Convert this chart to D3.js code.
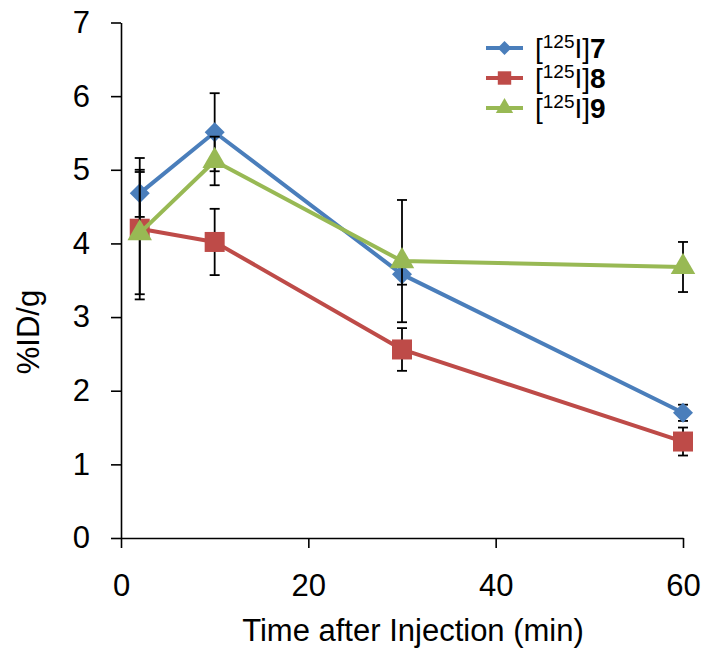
<!DOCTYPE html>
<html>
<head>
<meta charset="utf-8">
<script src="https://cdn.jsdelivr.net/npm/d3@7"></script>
<style>
  html, body { margin: 0; padding: 0; background: #fff; }
  svg { display: block; font-family: Arial, "Liberation Sans", sans-serif; }
</style>
</head>
<body>
<svg id="chart" width="714" height="666"></svg>
<script>
// ---- data ----
const times = [2, 10, 30, 60];
const seriesLabels = ["7", "8", "9"];
const values7 = [4.68, 5.51, 3.58, 1.70];
const errors7 = [0.32, 0.53, 0.14, 0.11];
const values8 = [4.20, 4.02, 2.56, 1.31];
const errors8 = [0.96, 0.45, 0.29, 0.19];
const values9 = [4.14, 5.12, 3.76, 3.68];
const errors9 = [0.83, 0.33, 0.83, 0.34];
const xTicks = [0, 20, 40, 60];
const yTicks = [0, 1, 2, 3, 4, 5, 6, 7];
const colors = ["#4a7ebb", "#be4b48", "#98b954"];
const markerTypes = ["diamond", "square", "triangle"];

const series = [
  { label: seriesLabels[0], values: values7, errors: errors7, color: colors[0], marker: markerTypes[0] },
  { label: seriesLabels[1], values: values8, errors: errors8, color: colors[1], marker: markerTypes[1] },
  { label: seriesLabels[2], values: values9, errors: errors9, color: colors[2], marker: markerTypes[2] }
];

const svg = d3.select("#chart");
const x = d3.scaleLinear().domain([0, 60]).range([121, 683]);
const y = d3.scaleLinear().domain([0, 7]).range([538, 22.5]);

function markerPath(type, big) {
  if (type === "diamond") return d3.symbol().type(d3.symbolSquare).size(big ? 200 : 95)();
  if (type === "square") return d3.symbol().type(d3.symbolSquare).size(big ? 400 : 180)();
  return d3.symbol().type(d3.symbolTriangle).size(big ? 260 : 130)();
}
function markerTransform(type, px, py) {
  return type === "diamond" ? `translate(${px},${py}) rotate(45)` : `translate(${px},${py})`;
}

// ---- axes ----
const yAxis = d3.axisLeft(y).tickValues(yTicks).tickSize(10).tickSizeOuter(0).tickPadding(21).tickFormat(d3.format("d"));
const gy = svg.append("g").attr("transform", `translate(${x(0)},0)`).call(yAxis);
gy.selectAll("text").attr("font-size", 31).attr("fill", "#000").attr("font-family", "Arial, 'Liberation Sans', sans-serif");

const xAxis = d3.axisBottom(x).tickValues(xTicks).tickSize(10).tickSizeOuter(0).tickPadding(26).tickFormat(d3.format("d"));
const gx = svg.append("g").attr("transform", `translate(0,${y(0)})`).call(xAxis);
gx.selectAll("text").attr("font-size", 31).attr("fill", "#000").attr("font-family", "Arial, 'Liberation Sans', sans-serif");

[gx, gy].forEach(g => {
  g.select(".domain").attr("stroke", "#000").attr("stroke-width", 1.6);
  g.selectAll(".tick line").attr("stroke", "#000").attr("stroke-width", 1.6);
});

// axis titles
svg.append("text")
  .attr("x", 413).attr("y", 641)
  .attr("text-anchor", "middle")
  .attr("font-size", 31)
  .text("Time after Injection (min)");

svg.append("text")
  .attr("transform", "translate(39,332) rotate(-90)")
  .attr("text-anchor", "middle")
  .attr("font-size", 31)
  .text("%ID/g");

// ---- series ----
const line = d3.line().x(d => x(d.t)).y(d => y(d.v));

series.forEach(s => {
  const pts = times.map((t, i) => ({ t, v: s.values[i], e: s.errors[i] }));
  const g = svg.append("g");
  // error bars
  const eb = g.append("g").attr("stroke", "#000").attr("stroke-width", 1.8);
  pts.forEach(p => {
    eb.append("line").attr("x1", x(p.t)).attr("x2", x(p.t)).attr("y1", y(p.v - p.e)).attr("y2", y(p.v + p.e));
    [p.v - p.e, p.v + p.e].forEach(v => {
      eb.append("line").attr("x1", x(p.t) - 5).attr("x2", x(p.t) + 5).attr("y1", y(v)).attr("y2", y(v));
    });
  });
  g.append("path").datum(pts).attr("d", line)
    .attr("fill", "none").attr("stroke", s.color).attr("stroke-width", 4).attr("stroke-linejoin", "round");
  g.selectAll(".m").data(pts).enter().append("path")
    .attr("d", markerPath(s.marker, true))
    .attr("transform", d => markerTransform(s.marker, x(d.t), y(d.v)))
    .attr("fill", s.color);
});

// ---- legend ----
const legendY = [48, 78, 108];
series.forEach((s, i) => {
  const ly = legendY[i];
  const lg = svg.append("g");
  lg.append("line").attr("x1", 486).attr("x2", 523).attr("y1", ly).attr("y2", ly)
    .attr("stroke", s.color).attr("stroke-width", 4);
  lg.append("path").attr("d", markerPath(s.marker, false))
    .attr("transform", markerTransform(s.marker, 504.5, ly)).attr("fill", s.color);
  const t = lg.append("text").attr("x", 535).attr("y", ly + 10).attr("font-size", 28);
  t.append("tspan").text("[");
  t.append("tspan").attr("font-size", 19).attr("dy", -10).text("125");
  t.append("tspan").attr("dy", 10).text("I]");
  t.append("tspan").attr("font-weight", "bold").text(s.label);
});
</script>
</body>
</html>
